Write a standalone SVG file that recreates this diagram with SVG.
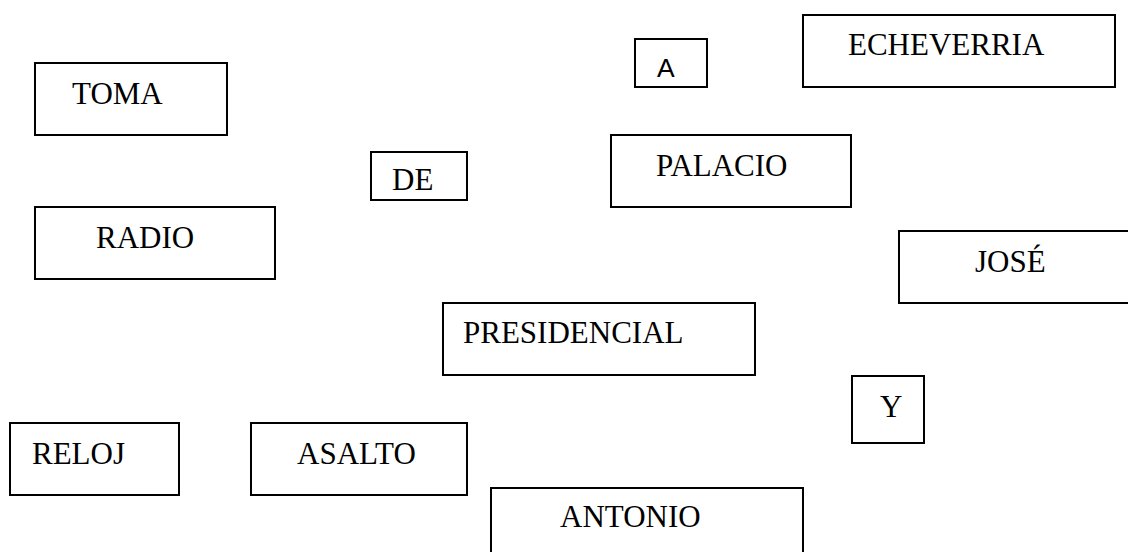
<svg xmlns="http://www.w3.org/2000/svg" width="1128" height="552" viewBox="0 0 1128 552">
<style>
.b{fill:#fff;stroke:#000;stroke-width:2}
.t{font-family:"Liberation Serif","Times New Roman",serif;font-size:31px;fill:#000}
.s{font-family:"Liberation Sans",Arial,sans-serif;font-size:26.5px;fill:#000}
</style>
<rect width="1128" height="552" fill="#fff"/>
<g id="toma"><rect class="b" x="35" y="63" width="192" height="72"/><text class="t" x="72" y="104">TOMA</text></g>
<g id="de"><rect class="b" x="371" y="152" width="96" height="48"/><text class="t" x="392" y="190">DE</text></g>
<g id="radio"><rect class="b" x="35" y="207" width="240" height="72"/><text class="t" x="96" y="248">RADIO</text></g>
<g id="a"><rect class="b" x="635" y="39" width="72" height="48"/><text class="s" x="657" y="77">A</text></g>
<g id="echeverria"><rect class="b" x="803" y="15" width="312" height="72"/><text class="t" x="848" y="55">ECHEVERRIA</text></g>
<g id="palacio"><rect class="b" x="611" y="135" width="240" height="72"/><text class="t" x="656" y="176">PALACIO</text></g>
<g id="jose"><rect class="b" x="899" y="231" width="240" height="72"/><text class="t" x="975" y="272">JOSÉ</text></g>
<g id="presidencial"><rect class="b" x="443" y="303" width="312" height="72"/><text class="t" x="463" y="343">PRESIDENCIAL</text></g>
<g id="y"><rect class="b" x="852" y="376" width="72" height="67"/><text class="t" x="880" y="417">Y</text></g>
<g id="reloj"><rect class="b" x="10" y="423" width="169" height="72"/><text class="t" x="32" y="464">RELOJ</text></g>
<g id="asalto"><rect class="b" x="251" y="423" width="216" height="72"/><text class="t" x="297" y="464">ASALTO</text></g>
<g id="antonio"><rect class="b" x="491" y="488" width="312" height="72"/><text class="t" x="560" y="527">ANTONIO</text></g>
<g id="connectors"></g>
</svg>
